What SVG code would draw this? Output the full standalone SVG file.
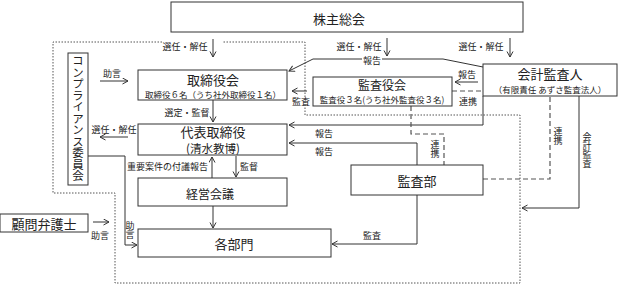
<svg xmlns="http://www.w3.org/2000/svg" width="618" height="285" viewBox="0 0 618 285">
<style>
text{font-family:"Noto Sans CJK JP","Noto Sans",sans-serif;fill:#222}
.box{fill:#fff;stroke:#333;stroke-width:1}
.ln{fill:none;stroke:#333;stroke-width:1}
.ar{fill:none;stroke:#333;stroke-width:1;marker-end:url(#a)}
.dot{fill:none;stroke:#555;stroke-width:1;stroke-dasharray:1.5 1.5}
.dash{fill:none;stroke:#555;stroke-width:1.2;stroke-dasharray:5 3}
.s{font-size:9px}
.sm{font-size:8.5px}
.v{font-size:9px;writing-mode:vertical-rl}
.t13{font-size:13px}
.t12{font-size:12px}
</style>
<defs>
<marker id="a" markerWidth="8" markerHeight="8" refX="6" refY="3.5" orient="auto" markerUnits="userSpaceOnUse">
<path d="M0.5,0.5 L6,3.5 L0.5,6.5" fill="none" stroke="#333" stroke-width="1"/>
</marker>
</defs>

<g id="region">
<polyline class="dot" points="162,42 53,42 53,193 115,193 115,283 520,283 520,115 305,115 305,42 222,42"/>
</g>

<g id="connectors">
<line class="ar" x1="213" y1="39" x2="213" y2="57"/>
<text class="s" x="185" y="46" text-anchor="middle" dominant-baseline="central">選任・解任</text>
<line class="ar" x1="387" y1="38" x2="387" y2="56"/>
<text class="s" x="359" y="46" text-anchor="middle" dominant-baseline="central">選任・解任</text>
<line class="ar" x1="510" y1="38" x2="510" y2="57"/>
<text class="s" x="481" y="46" text-anchor="middle" dominant-baseline="central">選任・解任</text>

<polyline class="ln" points="483,67 443,59 382,59"/>
<polyline class="ar" points="362,59 313,59 289,71"/>
<text class="s" x="372" y="60" text-anchor="middle" dominant-baseline="central">報告</text>

<line class="ar" x1="100" y1="81" x2="128" y2="81"/>
<text class="s" x="112" y="73" text-anchor="middle" dominant-baseline="central">助言</text>

<line class="ar" x1="307" y1="91" x2="292" y2="91"/>
<text class="s" x="301" y="101" text-anchor="middle" dominant-baseline="central">監査</text>

<line class="ar" x1="478" y1="82" x2="455" y2="82"/>
<text class="s" x="467" y="74" text-anchor="middle" dominant-baseline="central">報告</text>
<line class="dash" x1="452" y1="91" x2="483" y2="91"/>
<text class="s" x="468" y="101" text-anchor="middle" dominant-baseline="central">連携</text>

<line class="ar" x1="213" y1="100" x2="213" y2="122"/>
<text class="s" x="187" y="112" text-anchor="middle" dominant-baseline="central">選定・監督</text>

<line class="ar" x1="128" y1="137" x2="100" y2="137"/>
<text class="s" x="114" y="129" text-anchor="middle" dominant-baseline="central">選任・解任</text>

<polyline class="ar" points="88,156 125,156 125,245 137,245"/>
<text class="v" x="130" y="221">助言</text>

<polyline class="ar" points="483,96 483,125 289,125"/>
<text class="s" x="324" y="133" text-anchor="middle" dominant-baseline="central">報告</text>
<polyline class="ar" points="417,165 417,143 289,143"/>
<text class="s" x="324" y="151" text-anchor="middle" dominant-baseline="central">報告</text>

<line class="ar" x1="212" y1="178" x2="212" y2="157"/>
<text class="s" x="208" y="166" text-anchor="end" dominant-baseline="central">重要案件の付議報告</text>
<line class="ar" x1="236" y1="156" x2="236" y2="177"/>
<text class="s" x="240" y="166" dominant-baseline="central">監督</text>

<line class="ar" x1="213" y1="206" x2="213" y2="228"/>

<line class="ar" x1="93" y1="222" x2="109" y2="222"/>
<text class="s" x="100" y="235" text-anchor="middle" dominant-baseline="central">助言</text>

<polyline class="ar" points="417,195 417,244 332,244"/>
<text class="s" x="372" y="235" text-anchor="middle" dominant-baseline="central">監査</text>

<polyline class="dash" points="411,106 411,134 444,134 444,165"/>
<text class="v" x="435" y="140">連携</text>

<polyline class="dash" points="483,179 550,179 550,96"/>
<text class="v" x="558" y="127">連携</text>

<polyline class="ar" points="579,96 579,208 522,208"/>
<text class="v" x="587" y="132">会計監査</text>
</g>

<g id="n-kabunushi">
<rect class="box" x="171" y="2" width="352" height="30"/>
<text class="t13" x="313" y="18" dominant-baseline="central">株主総会</text>
</g>

<g id="n-compliance">
<rect class="box" x="68" y="53" width="20" height="132"/>
<text x="78" y="55" style="font-size:11.5px;writing-mode:vertical-rl">コンプライアンス委員会</text>
</g>

<g id="n-torishimariyakukai">
<rect class="box" x="138" y="70" width="149" height="30"/>
<text class="t13" x="213" y="79.5" text-anchor="middle" dominant-baseline="central">取締役会</text>
<text class="sm" x="213" y="93.5" text-anchor="middle" dominant-baseline="central">取締役６名（うち社外取締役１名）</text>
</g>

<g id="n-kansayakukai">
<rect class="box" x="313" y="77" width="139" height="29"/>
<text class="t12" x="382" y="84" text-anchor="middle" dominant-baseline="central">監査役会</text>
<text class="sm" x="382" y="99" text-anchor="middle" dominant-baseline="central">監査役３名(うち社外監査役３名)</text>
</g>

<g id="n-kaikei">
<rect class="box" x="483" y="64" width="134" height="32"/>
<text class="t13" x="550" y="73.5" text-anchor="middle" dominant-baseline="central">会計監査人</text>
<text class="sm" x="550" y="88.5" text-anchor="middle" dominant-baseline="central">（有限責任 あずさ監査法人）</text>
</g>

<g id="n-daihyo">
<rect class="box" x="138" y="124" width="149" height="31"/>
<text class="t13" x="213" y="131.5" text-anchor="middle" dominant-baseline="central">代表取締役</text>
<text x="213" y="147.5" text-anchor="middle" dominant-baseline="central" style="font-size:11.5px">(清水教博)</text>
</g>

<g id="n-keiei">
<rect class="box" x="138" y="178" width="149" height="28"/>
<text class="t12" x="210" y="193" text-anchor="middle" dominant-baseline="central">経営会議</text>
</g>

<g id="n-kansabu">
<rect class="box" x="351" y="165" width="132" height="30"/>
<text class="t13" x="417" y="180" text-anchor="middle" dominant-baseline="central">監査部</text>
</g>

<g id="n-komon">
<rect class="box" x="0" y="214" width="88" height="18"/>
<text class="t13" x="44" y="223" text-anchor="middle" dominant-baseline="central">顧問弁護士</text>
</g>

<g id="n-kakubumon">
<rect class="box" x="138" y="229" width="193" height="28"/>
<text class="t13" x="234" y="243" text-anchor="middle" dominant-baseline="central">各部門</text>
</g>
</svg>
